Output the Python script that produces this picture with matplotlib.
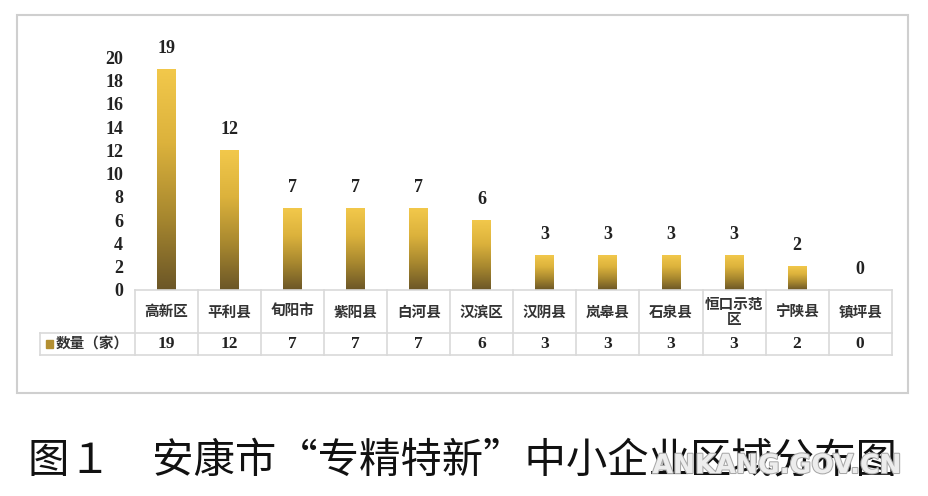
import numpy as np
import matplotlib
matplotlib.use("Agg")
import matplotlib.pyplot as plt
from matplotlib.colors import LinearSegmentedColormap
from matplotlib.patches import Rectangle
from matplotlib.lines import Line2D
import matplotlib.patheffects as pe

# data
districts = ["高新区", "平利县", "旬阳市", "紫阳县", "白河县", "汉滨区",
             "汉阴县", "岚皋县", "石泉县", "恒口示范\n区", "宁陕县", "镇坪县"]
counts = [19, 12, 7, 7, 7, 6, 3, 3, 3, 3, 2, 0]
yticks = [0, 2, 4, 6, 8, 10, 12, 14, 16, 18, 20]
series_name = "数量（家）"
caption = "图１　安康市“专精特新”中小企业区域分布图"

W, H = 929, 496
CJK = ["Noto Sans CJK SC", "DejaVu Sans"]
NUM = ["Liberation Serif", "DejaVu Serif"]
grid_col = "#d9d9d9"

gold = LinearSegmentedColormap.from_list(
    "gold", ["#6b5627", "#a8882f", "#dcb23c", "#f2c84b"])

fig = plt.figure(figsize=(W / 100, H / 100), dpi=100)

# outer frame of the chart
fig.patches.append(Rectangle((17 / W, 1 - 393 / H), (908 - 17) / W, (393 - 15) / H,
                             transform=fig.transFigure, fill=False,
                             edgecolor="#cfcfcf", lw=1.5))

x0, x1 = 135, 891.7
ytop, ybot = 57.4, 290
ax = fig.add_axes([x0 / W, 1 - ybot / H, (x1 - x0) / W, (ybot - ytop) / H])
axh = ybot - ytop
colw = (x1 - x0) / len(districts)

n = len(districts)
xs = np.arange(n)
bw = 0.30
grad = np.linspace(0, 1, 256).reshape(-1, 1)
for x, v in zip(xs, counts):
    if v > 0:
        ax.imshow(grad, extent=(x - bw / 2, x + bw / 2, 0, v), origin="lower",
                  aspect="auto", cmap=gold, interpolation="bicubic", zorder=2)
    ax.annotate(str(v), (x, v), xytext=(0, 15), textcoords="offset points",
                ha="center", va="center", fontsize=13, fontweight="bold",
                family=NUM, color="#222222", annotation_clip=False)

ax.set_xlim(-0.5, n - 0.5)
ax.set_ylim(0, 20)
for s in ax.spines.values():
    s.set_visible(False)
ax.set_xticks([])
ax.set_yticks(yticks)
ax.set_yticklabels([str(t) for t in yticks], fontsize=13, fontweight="bold",
                   family=NUM, color="#222222")
ax.tick_params(axis="y", length=0, pad=8.5)
ax.patch.set_alpha(0)

# data table below the axis
r1 = -(332.7 - ybot) / axh
r2 = -(355 - ybot) / axh
tr = ax.get_xaxis_transform()
left_x = -0.5 - (x0 - 40) / colw

def hline(xa, xb, y):
    ax.add_line(Line2D([xa, xb], [y, y], transform=tr, color=grid_col,
                       lw=1.2, clip_on=False))

def vline(x, ya, yb):
    ax.add_line(Line2D([x, x], [ya, yb], transform=tr, color=grid_col,
                       lw=1.2, clip_on=False))

hline(-0.5, n - 0.5, 0)
hline(left_x, n - 0.5, r1)
hline(left_x, n - 0.5, r2)
vline(left_x, r1, r2)
for i in range(n + 1):
    vline(i - 0.5, 0, r2)

for x, name, v in zip(xs, districts, counts):
    ax.text(x, r1 / 2, name, transform=tr, ha="center", va="center",
            fontsize=10.5, fontweight="bold", family=CJK, color="#333333",
            linespacing=0.95)
    ax.text(x, (r1 + r2) / 2, str(v), transform=tr, ha="center", va="center",
            fontsize=12.5, fontweight="bold", family=NUM, color="#222222")

# legend cell
ax.add_patch(Rectangle((left_x + 0.09, (r1 + r2) / 2 - 0.016), 0.11, 0.032,
                       transform=tr, color="#b38f31", clip_on=False))
ax.text(left_x + 0.25, (r1 + r2) / 2, series_name, transform=tr, ha="left",
        va="center", fontsize=10.5, fontweight="bold", family=CJK,
        color="#333333")

# caption and watermark
fig.text(28 / W, 1 - 461 / H, caption, ha="left", va="center", fontsize=29.8,
         family=CJK, color="#111111")
fig.text(777 / W, 1 - 466 / H, "ANKANG.GOV.CN", ha="center", va="center",
         fontsize=19, fontweight="bold", family="DejaVu Sans", color="#ededed",
         path_effects=[pe.withStroke(linewidth=1.5, foreground="#a8a8a8")])

fig.savefig("out.png", dpi=100)
